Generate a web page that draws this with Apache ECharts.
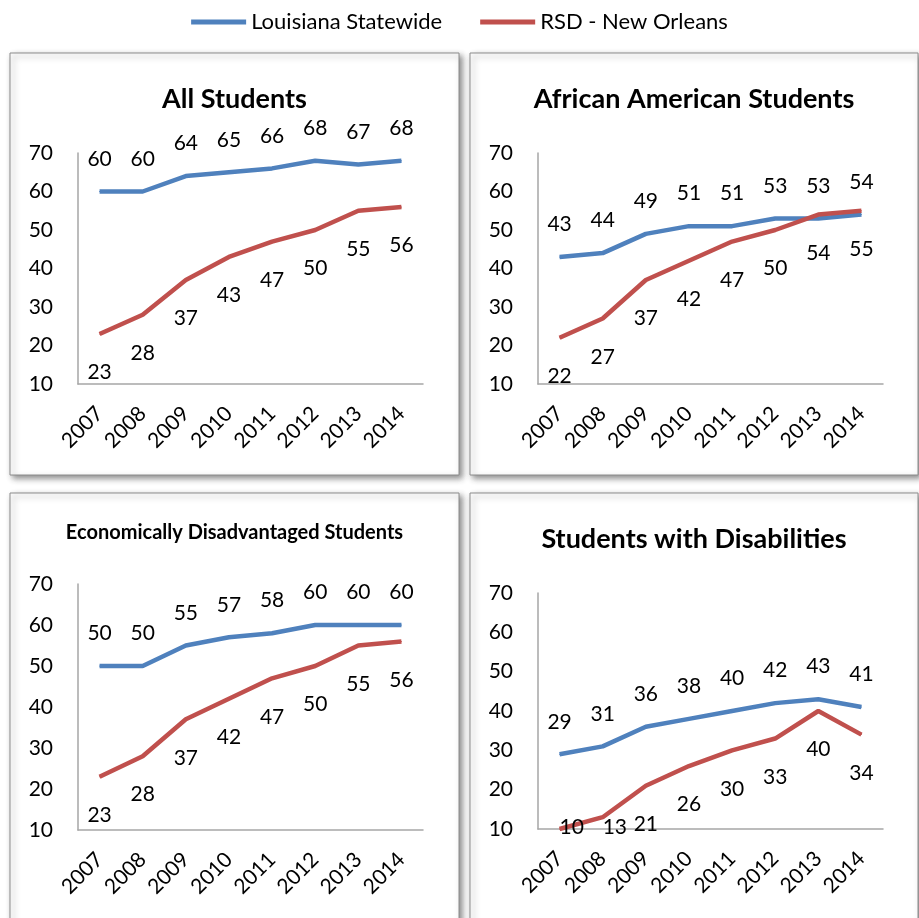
<!DOCTYPE html>
<html>
<head>
<meta charset="utf-8">
<script src="https://cdn.jsdelivr.net/npm/echarts@6/dist/echarts.min.js"></script>
<style>
  html, body { margin: 0; padding: 0; background: #fff; }
  #chart { width: 919px; height: 918px; }
</style>
</head>
<body>
<div id="chart"></div>
<script>
// Years on the x axis
const years = ['2007', '2008', '2009', '2010', '2011', '2012', '2013', '2014'];

// Series names
const stateName = 'Louisiana Statewide';
const rsdName = 'RSD - New Orleans';

// All Students
const allStateVals = [60, 60, 64, 65, 66, 68, 67, 68];
const allRsdVals = [23, 28, 37, 43, 47, 50, 55, 56];

// African American Students
const aaStateVals = [43, 44, 49, 51, 51, 53, 53, 54];
const aaRsdVals = [22, 27, 37, 42, 47, 50, 54, 55];

// Economically Disadvantaged Students
const edStateVals = [50, 50, 55, 57, 58, 60, 60, 60];
const edRsdVals = [23, 28, 37, 42, 47, 50, 55, 56];

// Students with Disabilities
const swdStateVals = [29, 31, 36, 38, 40, 42, 43, 41];
const swdRsdVals = [10, 13, 21, 26, 30, 33, 40, 34];

// Y axis range and ticks
const yMin = 10, yMax = 70, yStep = 10;

const FONT = 'Lato, "Open Sans", sans-serif';
const BLUE = '#4F81BD';
const RED = '#C0504D';

const panels = [
  { title: 'All Students', titleSize: 27, state: allStateVals, rsd: allRsdVals,
    box: [10, 53, 449, 422], titleY: 99, grid: { left: 78, top: 153, width: 345, height: 231 } },
  { title: 'African American Students', titleSize: 27, state: aaStateVals, rsd: aaRsdVals,
    box: [470, 53, 448, 422], titleY: 99, grid: { left: 538, top: 153, width: 345, height: 231 } },
  { title: 'Economically Disadvantaged Students', titleSize: 20, state: edStateVals, rsd: edRsdVals,
    box: [10, 493, 449, 440], titleY: 533, grid: { left: 78, top: 584, width: 345, height: 246 } },
  { title: 'Students with Disabilities', titleSize: 27, state: swdStateVals, rsd: swdRsdVals,
    box: [470, 493, 448, 440], titleY: 539, grid: { left: 538, top: 593, width: 345, height: 236 } }
];

const grids = [], xAxes = [], yAxes = [], series = [], graphics = [];

panels.forEach((p, i) => {
  const [bx, by, bw, bh] = p.box;
  // panel frame with a soft drop shadow
  graphics.push({
    type: 'rect', z: -10,
    shape: { x: bx, y: by, width: bw, height: bh },
    style: { fill: '#fff', stroke: '#8c8c8c', lineWidth: 1,
      shadowBlur: 6, shadowOffsetX: 3, shadowOffsetY: 3, shadowColor: 'rgba(0,0,0,0.45)' }
  });
  // panel heading
  graphics.push({
    type: 'text', z: 10,
    x: bx + bw / 2, y: p.titleY,
    style: { text: p.title, fill: '#000', font: 'bold ' + p.titleSize + 'px ' + FONT,
      align: 'center', verticalAlign: 'middle' }
  });

  grids.push(Object.assign({ containLabel: false }, p.grid));
  xAxes.push({
    type: 'category', gridIndex: i, data: years, boundaryGap: true,
    axisLine: { show: true, lineStyle: { color: '#a6a6a6', width: 1.5 } },
    axisTick: { show: false },
    axisLabel: { rotate: 45, margin: 26, color: '#000', fontSize: 21, fontFamily: FONT, interval: 0 },
    splitLine: { show: false }
  });
  yAxes.push({
    type: 'value', gridIndex: i, min: yMin, max: yMax, interval: yStep,
    axisLine: { show: true, lineStyle: { color: '#a6a6a6', width: 1.5 } },
    axisTick: { show: false },
    axisLabel: { margin: 25, color: '#000', fontSize: 21, fontFamily: FONT },
    splitLine: { show: false }
  });

  const gridBottom = p.grid.top + p.grid.height;
  const labelBase = { show: true, color: '#000', fontSize: 21, fontFamily: FONT, lineHeight: 22 };

  series.push({
    name: stateName, type: 'line', xAxisIndex: i, yAxisIndex: i,
    data: p.state, symbol: 'circle', symbolSize: 1, showSymbol: true,
    lineStyle: { color: BLUE, width: 4.5 }, itemStyle: { color: BLUE },
    label: Object.assign({ position: 'top', distance: 21 }, labelBase),
    z: 3
  });
  series.push({
    name: rsdName, type: 'line', xAxisIndex: i, yAxisIndex: i,
    data: p.rsd, symbol: 'circle', symbolSize: 1, showSymbol: true,
    lineStyle: { color: RED, width: 4.5 }, itemStyle: { color: RED },
    label: Object.assign({ position: 'bottom', distance: 27 }, labelBase),
    // keep labels from dropping below the plot frame
    labelLayout: function (params) {
      const r = params.labelRect;
      const limit = gridBottom + 9;
      if (r.y + r.height > limit) {
        return { y: limit - r.height };
      }
      return {};
    },
    z: 4
  });
});

const chart = echarts.init(document.getElementById('chart'), null, { renderer: 'canvas' });
chart.setOption({
  animation: false,
  backgroundColor: '#fff',
  legend: {
    top: 6, left: 'center',
    data: [stateName, rsdName],
    icon: 'rect', itemWidth: 55, itemHeight: 5, itemGap: 38,
    textStyle: { color: '#000', fontSize: 22, fontFamily: FONT }
  },
  grid: grids,
  xAxis: xAxes,
  yAxis: yAxes,
  series: series,
  graphic: graphics
});
</script>
</body>
</html>
